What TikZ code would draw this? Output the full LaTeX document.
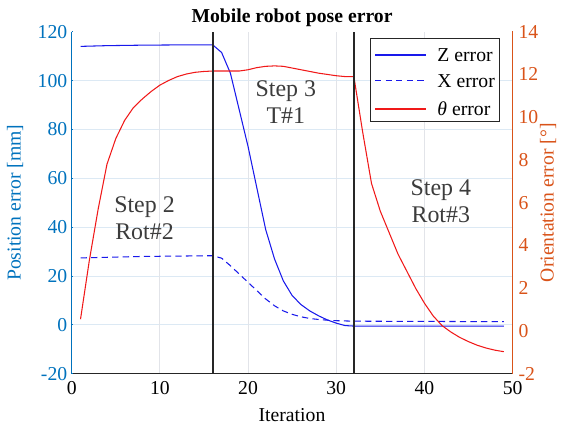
\documentclass[tikz,border=0pt]{standalone}
\usepackage{fontspec}
\setmainfont{Liberation Serif}

\definecolor{leftax}{RGB}{0,114,189}
\definecolor{rightax}{RGB}{217,83,25}
\definecolor{axgray}{RGB}{38,38,38}
\definecolor{gridh}{RGB}{220,233,244}
\definecolor{gridv}{RGB}{226,228,233}
\definecolor{steptext}{RGB}{60,60,60}
\definecolor{zblue}{RGB}{25,25,235}
\definecolor{tred}{RGB}{240,25,25}

\tikzset{
    ticklabel/.style={font=\fontsize{14}{16}\selectfont},
    steplabel/.style={font=\fontsize{17}{19.2}\selectfont, text=steptext, align=center},
    zline/.style={zblue, line width=0.75pt},
    xline/.style={zblue, line width=0.75pt, dash pattern=on 4.5pt off 3pt},
    thline/.style={tred, line width=0.75pt},
    stepline/.style={axgray, line width=1.5pt}
}

\begin{document}
\begin{tikzpicture}
    \useasboundingbox (0,0) rectangle (14.125,10.65);

    % Position axis: x in iterations, y in mm
    \begin{scope}[shift={(1.7925,2.5289)}, x=0.22045cm, y=0.061071cm]
        % Draw grid
        \foreach \y in {0,20,...,100}
            \draw[gridh, line width=0.6pt] (0,\y) -- (50,\y);
        \foreach \x in {10,20,30,40}
            \draw[gridv, line width=0.6pt] (\x,-20) -- (\x,120);

        % Z error and X error
        \draw[zline] plot coordinates {(1,114) (4,114.3) (8,114.5) (12,114.6) (16,114.6) (17,111.5) (18,103) (19,88) (20,73) (21,56) (22,39) (23,27) (24,18) (25,12) (26,8.3) (27,5.7) (28,3.7) (29,2) (30,0.7) (31,-0.3) (32,-0.5) (49,-0.5)};
        \draw[xline] plot coordinates {(1,27.4) (8,28) (16,28.3) (17,27.3) (18,24.2) (19,20.8) (20,17.4) (21,14) (22,10.6) (23,7.8) (24,5.7) (25,4.3) (26,3.3) (27,2.6) (28,2.2) (29,1.9) (30,1.7) (31,1.6) (32,1.5) (49,1.3)};

        % Draw x-axis
        \draw[axgray, line width=0.9pt] (0,-20) -- (50,-20);
        \foreach \x in {0,10,...,50}
            \draw[axgray, line width=0.6pt] (\x,-20) -- ++(0,0.11);
        \foreach \x in {0,10,...,50}
            \node[ticklabel, below, inner sep=5pt] (xl\x) at (\x,-20) {\x};

        % Draw left y-axis
        \draw[leftax, line width=0.9pt] (0,-20) -- (0,120);
        \foreach \y in {-20,0,...,120}
            \draw[leftax, line width=0.6pt] (0,\y) -- ++(0.11,0);
        \foreach \y in {-20,0,...,120}
            \node[ticklabel, text=leftax, left, inner sep=3pt] (yl\y) at (0,\y) {\y};
    \end{scope}

    % Orientation axis: x in iterations, y in degrees
    \begin{scope}[shift={(1.7925,2.37625)}, x=0.22045cm, y=0.534375cm]
        \draw[thline] plot coordinates {(1,0.55) (2,3.3) (3,5.7) (4,7.8) (5,9.0) (6,9.85) (7,10.45) (8,10.85) (9,11.2) (10,11.5) (11,11.72) (12,11.9) (13,12.02) (14,12.1) (15,12.14) (16,12.16) (19,12.16) (20,12.22) (21,12.32) (22,12.38) (23,12.4) (24,12.38) (25,12.3) (26,12.22) (27,12.14) (28,12.06) (29,12.0) (30,11.94) (31,11.9) (32,11.9) (33,9.3) (34,6.9) (35,5.6) (36,4.6) (37,3.6) (38,2.8) (39,2.0) (40,1.3) (41,0.7) (42,0.25) (43,-0.05) (44,-0.3) (45,-0.5) (46,-0.67) (47,-0.8) (48,-0.9) (49,-0.97)};

        % Step borders
        \foreach \x in {16,32}
            \draw[stepline] (\x,-2) -- (\x,14);

        % Draw right y-axis
        \draw[rightax, line width=0.9pt] (50,-2) -- (50,14);
        \foreach \y in {-2,0,...,14}
            \draw[rightax, line width=0.6pt] (50,\y) -- ++(-0.11,0);
        \foreach \y in {-2,0,...,14}
            \node[ticklabel, text=rightax, right, inner sep=4pt] (yr\y) at (50,\y) {\y};
    \end{scope}

    % Step labels
    \node[steplabel] (step2) at (3.6125,5.1875) {Step 2\\Rot\#2};
    \node[steplabel] (step3) at (7.145,8.0875) {Step 3\\T\#1};
    \node[steplabel] (step4) at (11.02,5.6125) {Step 4\\Rot\#3};

    % Titles
    \node[font=\fontsize{14}{16}\selectfont\bfseries, anchor=base] (title) at (7.3,10.0825) {Mobile robot pose error};
    \node[ticklabel, anchor=base] (xlabel) at (7.3,0.1075) {Iteration};
    \node[ticklabel, text=leftax, rotate=90] (ylabel) at (0.375,5.5825) {Position error [mm]};
    \node[ticklabel, text=rightax, rotate=90] (y2label) at (13.7,5.5825) {Orientation error [°]};

    % Legend
    \draw[axgray, fill=white, line width=0.6pt] (9.25,7.6075) rectangle (12.475,9.6925);
    \coordinate (lz) at (9.375,9.275);
    \coordinate (lx) at (9.375,8.6325);
    \coordinate (lt) at (9.375,7.925);
    \draw[zline] (lz) -- ++(1.275,0);
    \draw[xline] (lx) -- ++(1.275,0);
    \draw[thline] (lt) -- ++(1.275,0);
    \node[ticklabel, anchor=west, inner sep=0pt] (lzt) at (10.93,9.275) {Z error};
    \node[ticklabel, anchor=west, inner sep=0pt] (lxt) at (10.93,8.6325) {X error};
    \node[ticklabel, anchor=west, inner sep=0pt] (ltt) at (10.93,7.925) {\textit{θ} error};
\end{tikzpicture}
\end{document}
